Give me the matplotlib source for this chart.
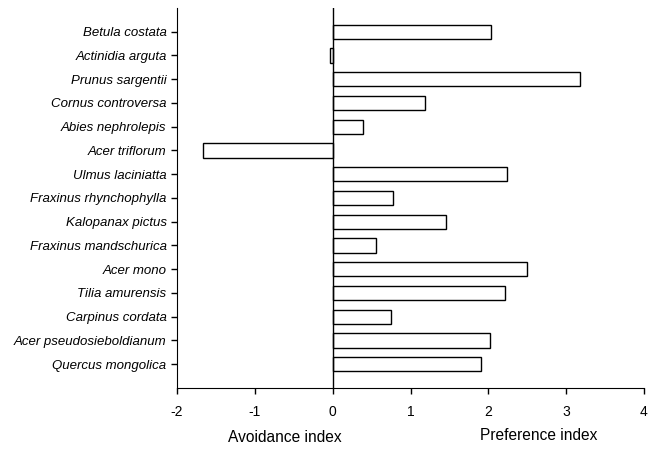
import matplotlib
matplotlib.use("Agg")
import matplotlib.pyplot as plt

plt.rcParams["font.family"] = ["Liberation Sans", "DejaVu Sans"]

# bottom to top
species = [
    "Quercus mongolica", "Acer pseudosieboldianum", "Carpinus cordata",
    "Tilia amurensis", "Acer mono", "Fraxinus mandschurica",
    "Kalopanax pictus", "Fraxinus rhynchophylla", "Ulmus laciniatta",
    "Acer triflorum", "Abies nephrolepis", "Cornus controversa",
    "Prunus sargentii", "Actinidia arguta", "Betula costata",
]
index_vals = [1.90, 2.02, 0.75, 2.22, 2.50, 0.56, 1.45, 0.78, 2.24,
              -1.67, 0.39, 1.18, 3.18, -0.04, 2.03]
xticks = [-2, -1, 0, 1, 2, 3, 4]

fig = plt.figure(figsize=(6.62, 4.54), dpi=100)
ax = fig.add_axes([0.2674, 0.1454, 0.7054, 0.8370])

ypos = list(range(len(species)))
ax.barh(ypos, index_vals, height=0.6, color="white", edgecolor="black", linewidth=1.0)
ax.axvline(0, color="black", lw=1.0)

ax.set_yticks(ypos)
ax.set_yticklabels(species, fontsize=9.5, style="italic")
ax.set_xticks(xticks)
ax.set_xticklabels([str(t) for t in xticks], fontsize=10)
ax.set_xlim(-2, 4)
ax.set_ylim(-1, 15)
ax.spines[["top", "right"]].set_visible(False)
ax.tick_params(direction="out", length=4, width=1, color="black")
ax.tick_params(axis="x", pad=8)

fig.text(285 / 662, 1 - 437 / 454, "Avoidance index", ha="center", va="center", fontsize=11.2)
fig.text(539 / 662, 1 - 436 / 454, "Preference index", ha="center", va="center", fontsize=11.2)

fig.savefig("out.png", facecolor="white")
